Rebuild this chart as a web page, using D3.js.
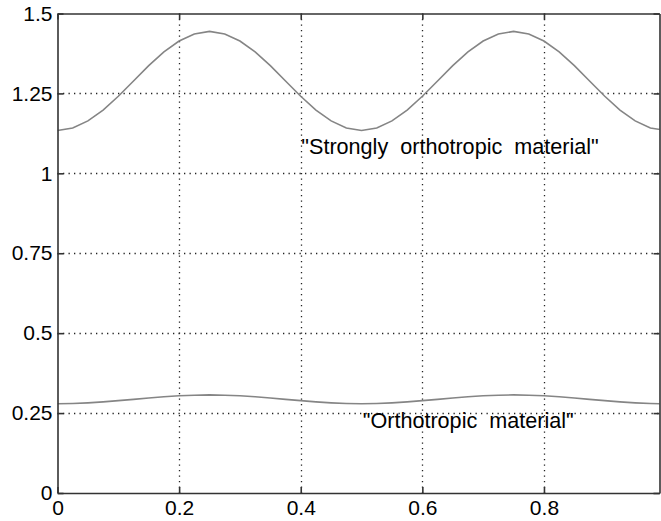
<!DOCTYPE html>
<html>
<head>
<meta charset="utf-8">
<script src="https://cdn.jsdelivr.net/npm/d3@7"></script>
<style>
  body { margin: 0; background: #fff; }
  text { font-family: "Liberation Sans", Arial, sans-serif; fill: #000; }
</style>
</head>
<body>
<div id="chart"></div>
<script>
// data, x step 0.025
var xs = d3.range(0, 41).map(function(i) { return i * 0.025; });

var strongly = [1.134, 1.142, 1.164, 1.198, 1.241, 1.289, 1.337, 1.380, 1.414, 1.436,
                1.444, 1.436, 1.414, 1.380, 1.337, 1.289, 1.241, 1.198, 1.164, 1.142,
                1.134, 1.142, 1.164, 1.198, 1.241, 1.289, 1.337, 1.380, 1.414, 1.436,
                1.444, 1.436, 1.414, 1.380, 1.337, 1.289, 1.241, 1.198, 1.164, 1.142,
                1.134];

var ortho = [0.279, 0.280, 0.282, 0.285, 0.289, 0.293, 0.297, 0.301, 0.304, 0.306,
             0.307, 0.306, 0.304, 0.301, 0.297, 0.293, 0.289, 0.285, 0.282, 0.280,
             0.279, 0.280, 0.282, 0.285, 0.289, 0.293, 0.297, 0.301, 0.304, 0.306,
             0.307, 0.306, 0.304, 0.301, 0.297, 0.293, 0.289, 0.285, 0.282, 0.280,
             0.279];

var xTicks = [0, 0.2, 0.4, 0.6, 0.8];
var yTicks = [0, 0.25, 0.5, 0.75, 1, 1.25, 1.5];
var yTickLabels = ["0", "0.25", "0.5", "0.75", "1", "1.25", "1.5"];

var labels = [
  {text: '"Strongly  orthotropic  material"', x: 0.401, y: 1.06},
  {text: '"Orthotropic  material"', x: 0.502, y: 0.204}
];

var W = 661, H = 521;
var pLeft = 57.5, pTop = 13.5, pRight = 659.5, pBottom = 493;

var svg = d3.select("#chart").append("svg")
    .attr("width", W)
    .attr("height", H);

var x = d3.scaleLinear().domain([0, 0.99]).range([pLeft, pRight]);
var y = d3.scaleLinear().domain([0, 1.5]).range([pBottom, pTop]);

svg.append("defs").append("clipPath").attr("id", "clip")
  .append("rect")
    .attr("x", pLeft).attr("y", pTop)
    .attr("width", pRight - pLeft).attr("height", pBottom - pTop);

// dotted grid
svg.append("g").selectAll("line.gx")
  .data(xTicks.slice(1))
  .enter().append("line")
    .attr("x1", function(d) { return Math.round(x(d)) + 0.5; })
    .attr("x2", function(d) { return Math.round(x(d)) + 0.5; })
    .attr("y1", pTop).attr("y2", pBottom)
    .style("stroke", "#222")
    .style("stroke-width", 1.3)
    .style("stroke-dasharray", "1.3,4.2");

svg.append("g").selectAll("line.gy")
  .data(yTicks.slice(1, -1))
  .enter().append("line")
    .attr("y1", function(d) { return Math.round(y(d)) + 0.5; })
    .attr("y2", function(d) { return Math.round(y(d)) + 0.5; })
    .attr("x1", pLeft).attr("x2", pRight)
    .style("stroke", "#222")
    .style("stroke-width", 1.3)
    .style("stroke-dasharray", "1.3,4.2");

// curves
var line = d3.line()
  .x(function(d) { return x(d[0]); })
  .y(function(d) { return y(d[1]); });

[strongly, ortho].forEach(function(s) {
  svg.append("path")
    .datum(xs.map(function(v, i) { return [v, s[i]]; }))
    .attr("clip-path", "url(#clip)")
    .attr("d", line)
    .style("fill", "none")
    .style("stroke", "#858585")
    .style("stroke-width", 1.6);
});

// axes with inward ticks, boxed
var axCol = "#333";
var xb = svg.append("g").attr("transform", "translate(0," + pBottom + ")")
  .call(d3.axisBottom(x).tickValues(xTicks).tickSizeInner(-6).tickSizeOuter(0)
        .tickFormat(function(d) { return d === 0 ? "0" : d3.format(".1f")(d); }));
var xt = svg.append("g").attr("transform", "translate(0," + pTop + ")")
  .call(d3.axisTop(x).tickValues(xTicks).tickSizeInner(-6).tickSizeOuter(0).tickFormat(""));
var yl = svg.append("g").attr("transform", "translate(" + pLeft + ",0)")
  .call(d3.axisLeft(y).tickValues(yTicks).tickSizeInner(-6).tickSizeOuter(0).tickPadding(5)
        .tickFormat(function(d, i) { return yTickLabels[i]; }));
var yr = svg.append("g").attr("transform", "translate(" + pRight + ",0)")
  .call(d3.axisRight(y).tickValues(yTicks).tickSizeInner(-6).tickSizeOuter(0).tickFormat(""));

[xb, xt, yl, yr].forEach(function(g) {
  g.select(".domain").style("stroke", axCol).style("stroke-width", 1.6);
  g.selectAll(".tick line").style("stroke", axCol).style("stroke-width", 1.6);
  g.selectAll("text")
    .style("font-family", '"Liberation Sans", Arial, sans-serif')
    .style("font-size", "21px")
    .style("fill", "#000");
});
xb.selectAll("text").attr("dy", "0.71em").attr("y", 7);

// curve annotations
svg.selectAll("text.lab")
  .data(labels)
  .enter().append("text")
    .attr("class", "lab")
    .attr("x", function(d) { return x(d.x); })
    .attr("y", function(d) { return y(d.y); })
    .attr("xml:space", "preserve")
    .style("white-space", "pre")
    .style("font-size", "21.6px")
    .text(function(d) { return d.text; });
</script>
</body>
</html>
